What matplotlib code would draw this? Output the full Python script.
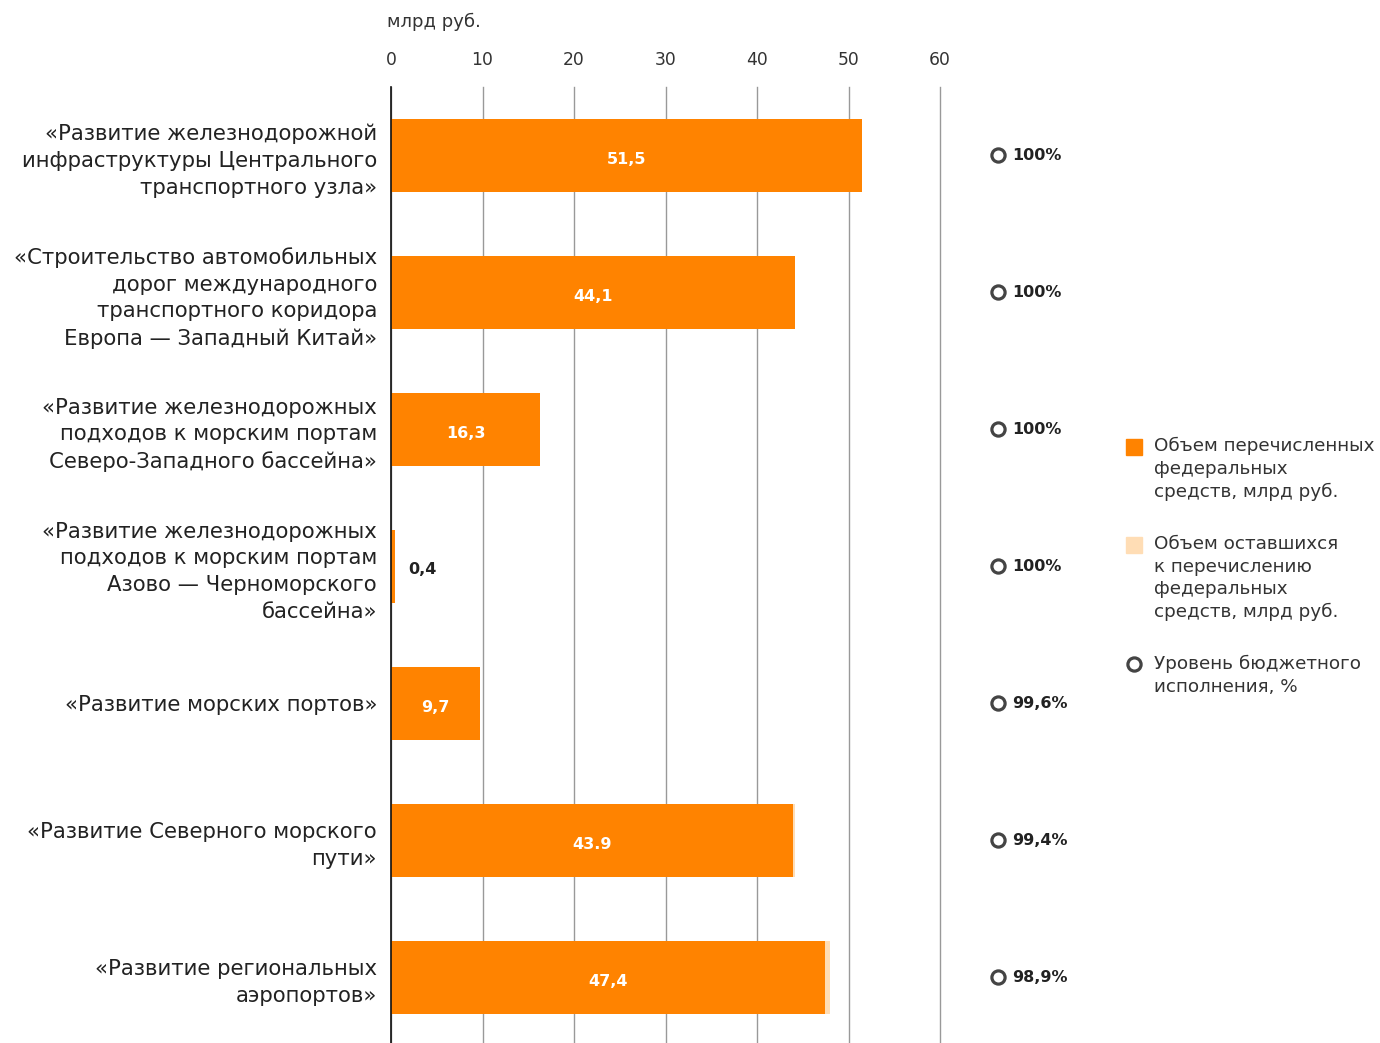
import matplotlib
matplotlib.use("Agg")
import matplotlib.pyplot as plt
from matplotlib.patches import Rectangle
from matplotlib.lines import Line2D

plt.rcParams['font.family'] = ['DejaVu Sans']

categories = [
    "«Развитие железнодорожной\nинфраструктуры Центрального\nтранспортного узла»",
    "«Строительство автомобильных\nдорог международного\nтранспортного коридора\nЕвропа — Западный Китай»",
    "«Развитие железнодорожных\nподходов к морским портам\nСеверо-Западного бассейна»",
    "«Развитие железнодорожных\nподходов к морским портам\nАзово — Черноморского\nбассейна»",
    "«Развитие морских портов»",
    "«Развитие Северного морского\nпути»",
    "«Развитие региональных\nаэропортов»",
]
transferred = [51.5, 44.1, 16.3, 0.4, 9.7, 43.9, 47.4]
remaining = [0.0, 0.0, 0.0, 0.0, 0.04, 0.27, 0.53]
value_labels = ["51,5", "44,1", "16,3", "0,4", "9,7", "43.9", "47,4"]
execution = ["100%", "100%", "100%", "100%", "99,6%", "99,4%", "98,9%"]
xticks = [0, 10, 20, 30, 40, 50, 60]

ORANGE = "#FF8300"
PEACH = "#FFDDB5"
DARK = "#222222"

fig = plt.figure(figsize=(13.8, 10.43), dpi=100)
ax = fig.add_axes([391/1380, 0, (940-391)/1380, 1 - 87/1043])

y = list(range(len(categories)))
ax.barh(y, transferred, height=0.53, color=ORANGE, zorder=3)
ax.barh(y, remaining, left=transferred, height=0.53, color=PEACH, zorder=3)

ax.set_xlim(0, 60)
ax.set_ylim(6.48, -0.5)
ax.set_xticks(xticks)
ax.xaxis.tick_top()
ax.tick_params(axis='x', length=0, pad=13, labelsize=12.3, labelcolor="#333333")
ax.set_yticks(y)
ax.set_yticklabels(categories, fontsize=15.3, color=DARK, linespacing=1.42)
ax.tick_params(axis='y', length=0, pad=10)
for lab in ax.get_yticklabels():
    lab.set_horizontalalignment('right')
ax.grid(axis='x', color="#999999", linewidth=1, zorder=0)
for gl in ax.get_xgridlines():
    gl.set_clip_on(False)
for s in ['top', 'right', 'bottom']:
    ax.spines[s].set_visible(False)
ax.spines['left'].set_color("#111111")
ax.spines['left'].set_linewidth(1.2)
ax.spines['left'].set_zorder(5)

for i, (v, lab) in enumerate(zip(transferred, value_labels)):
    if v < 3:
        ax.text(v + 1.5, i + 0.02, lab, ha='left', va='center', fontsize=11.5,
                fontweight='bold', color=DARK, zorder=4)
    else:
        ax.text(v / 2, i + 0.03, lab, ha='center', va='center', fontsize=11.5,
                fontweight='bold', color='white', zorder=4)

for i, pct in enumerate(execution):
    ax.plot([66.3], [i], marker='o', markersize=9.5, markerfacecolor='white',
            markeredgecolor='#444444', markeredgewidth=2.3, clip_on=False, zorder=6)
    ax.text(67.9, i, pct, ha='left', va='center', fontsize=11.5,
            fontweight='bold', color=DARK, clip_on=False)

fig.text(387/1380, 1 - 22/1043, "млрд руб.", ha='left', va='center',
         fontsize=13, color="#333333")

# legend
fig.patches.append(Rectangle((1126/1380, 1 - 455/1043), 16/1380, 16/1043,
                             transform=fig.transFigure, color=ORANGE))
fig.patches.append(Rectangle((1126/1380, 1 - 553/1043), 16/1380, 16/1043,
                             transform=fig.transFigure, color=PEACH))
fig.lines.append(Line2D([1134/1380], [1 - 664/1043], transform=fig.transFigure,
                        marker='o', markersize=9.5, markerfacecolor='white',
                        markeredgecolor='#444444', markeredgewidth=2.3))
leg_kw = dict(ha='left', va='top', fontsize=13.2, color="#333333", linespacing=1.33)
fig.text(1154/1380, 1 - 437/1043, "Объем перечисленных\nфедеральных\nсредств, млрд руб.", **leg_kw)
fig.text(1154/1380, 1 - 535/1043, "Объем оставшихся\nк перечислению\nфедеральных\nсредств, млрд руб.", **leg_kw)
fig.text(1154/1380, 1 - 655/1043, "Уровень бюджетного\nисполнения, %", **leg_kw)

fig.savefig("out.png", dpi=100)
